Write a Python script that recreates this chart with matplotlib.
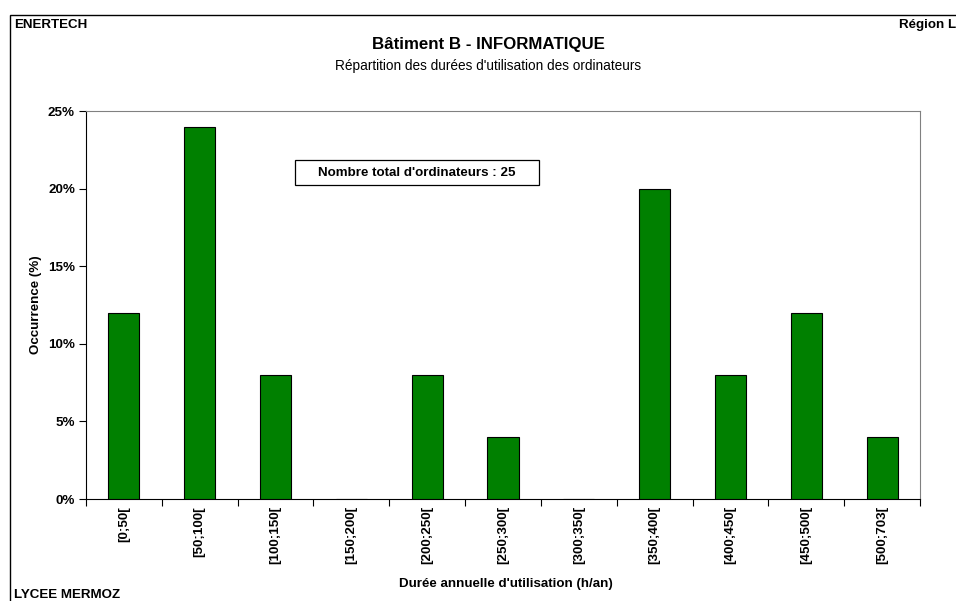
import matplotlib
matplotlib.use("Agg")
import matplotlib.pyplot as plt
from matplotlib.patches import Rectangle
from matplotlib.ticker import FuncFormatter, MultipleLocator

plt.rcParams['font.family'] = ['Liberation Sans', 'DejaVu Sans']

categories = ["[0;50[", "[50;100[", "[100;150[", "[150;200[", "[200;250[", "[250;300[",
              "[300;350[", "[350;400[", "[400;450[", "[450;500[", "[500;703["]
occurrence = [12, 24, 8, 0, 8, 4, 0, 20, 8, 12, 4]
total_computers = 25

FS = 9.6
W, H = 956, 601
fig = plt.figure(figsize=(W / 100, H / 100), dpi=100)
fig.patch.set_facecolor("white")

# outer frame of the sheet
fig.patches.append(Rectangle((10 / W, -0.05), 1.1, 1 - 15 / H + 0.05, transform=fig.transFigure,
                             fill=False, edgecolor="black", linewidth=1.0))

left, right, top, bottom = 86, 920, 111, 499
ax = fig.add_axes([left / W, 1 - bottom / H, (right - left) / W, (bottom - top) / H])

x = range(len(categories))
ax.bar(x, occurrence, width=0.41, color="#008000", edgecolor="black", linewidth=0.8, zorder=3)

ax.set_xlim(-0.5, len(categories) - 0.5)
ax.set_ylim(0, 25)
ax.yaxis.set_major_locator(MultipleLocator(5))
ax.yaxis.set_major_formatter(FuncFormatter(lambda v, p: f"{v:.0f}%"))

ax.set_xticks([i - 0.5 for i in range(len(categories) + 1)], minor=False)
ax.set_xticklabels([])
ax.set_xticks(list(x), minor=True)
ax.set_xticklabels(categories, minor=True, rotation=90, fontsize=FS, fontweight="bold")
ax.tick_params(axis="x", which="minor", length=0, pad=5)
ax.tick_params(axis="x", which="major", length=5, direction="out", width=0.8)
ax.tick_params(axis="y", length=5, direction="out", width=0.8, labelsize=FS, pad=3)
for lbl in ax.get_yticklabels():
    lbl.set_fontweight("bold")

for side in ("top", "right"):
    ax.spines[side].set_color("#808080")
    ax.spines[side].set_linewidth(0.8)
for side in ("left", "bottom"):
    ax.spines[side].set_color("black")
    ax.spines[side].set_linewidth(0.8)

fig.text(36 / W, 1 - 305 / H, "Occurrence (%)", rotation=90, fontsize=FS, fontweight="bold",
         ha="center", va="center")
fig.text(506 / W, 1 - 584 / H, "Durée annuelle d'utilisation (h/an)", fontsize=FS,
         fontweight="bold", ha="center", va="center")

# annotation box with the number of computers
box_l, box_r, box_t, box_b = 295, 539, 160, 185
fig.patches.append(Rectangle((box_l / W, 1 - box_b / H), (box_r - box_l) / W, (box_b - box_t) / H,
                             transform=fig.transFigure, facecolor="white", edgecolor="black",
                             linewidth=0.9, zorder=5))
fig.text((box_l + box_r) / 2 / W, 1 - (box_t + box_b) / 2 / H,
         f"Nombre total d'ordinateurs : {total_computers}",
         ha="center", va="center", fontsize=FS, fontweight="bold", zorder=6)

fig.text(14 / W, 1 - 25 / H, "ENERTECH", fontsize=FS, fontweight="bold", ha="left", va="center")
fig.text(1.0, 1 - 25 / H, "Région L", fontsize=FS, fontweight="bold", ha="right", va="center")
fig.text(488 / W, 1 - 45 / H, "Bâtiment B - INFORMATIQUE", fontsize=12.2, fontweight="bold",
         ha="center", va="center")
fig.text(488 / W, 1 - 66 / H, "Répartition des durées d'utilisation des ordinateurs", fontsize=9.8,
         ha="center", va="center")
fig.text(14 / W, 1 - 595 / H, "LYCEE MERMOZ", fontsize=FS, fontweight="bold", ha="left", va="center")

fig.savefig("out.png", dpi=100)
